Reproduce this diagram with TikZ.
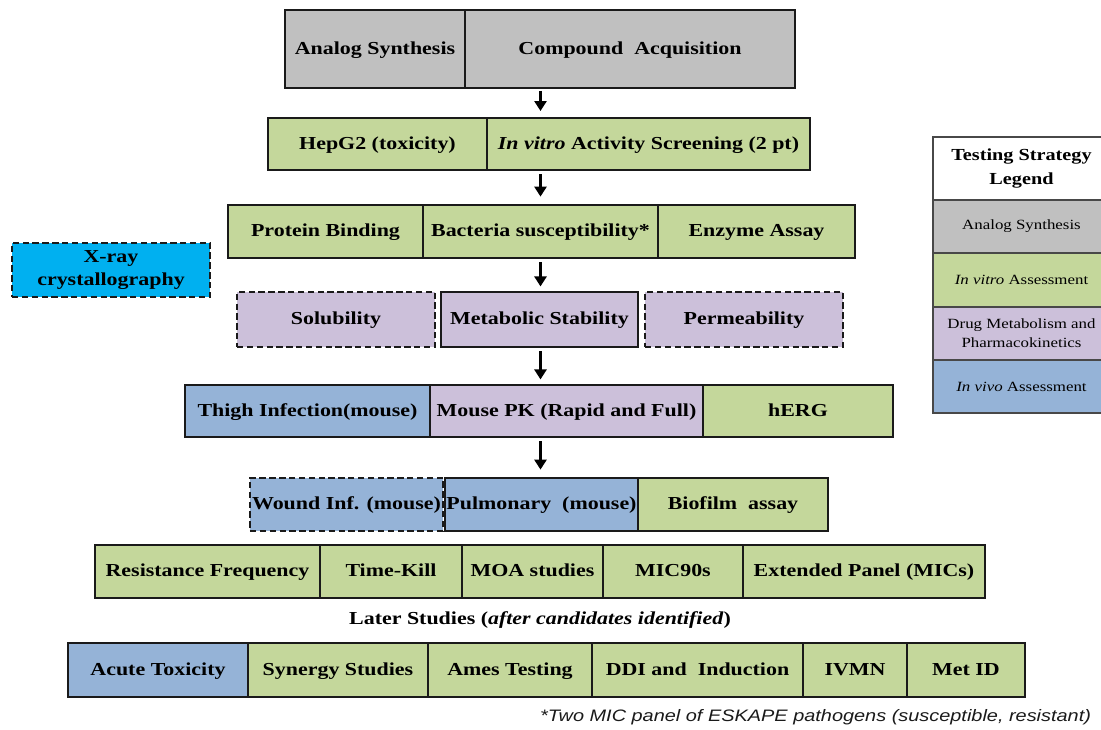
\documentclass[tikz,border=0pt]{standalone}
\usepackage{fontspec}
\setmainfont[FakeStretch=1.2]{Liberation Serif}
\newfontfamily\notefont[FakeStretch=1.2]{Liberation Sans}
\usetikzlibrary{arrows.meta,calc}
\definecolor{grauk}{HTML}{C0C0C0}
\definecolor{gruen}{HTML}{C4D79B}
\definecolor{lila}{HTML}{CCC0DA}
\definecolor{blau}{HTML}{95B3D7}
\definecolor{roentgen}{HTML}{00B0F0}
\definecolor{rahmen}{HTML}{1A1A1A}
\tikzset{
  box/.style={draw=rahmen,line width=1.9pt,minimum height=1.3cm,inner sep=1pt,font=\fontsize{13}{15}\selectfont\bfseries},
  zeile/.style={box,text height=1.9ex,text depth=0.3ex},
  syn/.style={zeile,fill=grauk},
  vitro/.style={zeile,fill=gruen},
  dmpk/.style={zeile,fill=lila},
  vivo/.style={zeile,fill=blau},
  optional/.style={dashed,dash pattern=on 4.5pt off 2.5pt},
  flow/.style={-{Triangle[length=2.5mm,width=3mm]},line width=1.8pt},
  leg/.style={draw=rahmen!80,line width=1.1pt,minimum width=4.425cm,minimum height=1.325cm,align=center,font=\fontsize{10}{13.5}\selectfont},
}

\begin{document}
\begin{tikzpicture}[x=0.025cm,y=-0.025cm]
  \useasboundingbox (0,0) rectangle (1101,730);
  % start
  \node[syn,minimum width=4.5cm,minimum height=1.95cm] (anasyn) at (375,49) {Analog Synthesis};
  \node[syn,minimum width=8.25cm,minimum height=1.95cm] (acq) at (630,49) {Compound\ \ Acquisition};
  % in vitro
  \node[vitro,minimum width=5.475cm] (hepg) at (377.5,144) {HepG2 (toxicity)};
  \node[vitro,minimum width=8.075cm] (screen) at (648.5,144) {\textit{In vitro} Activity Screening (2 pt)};
  \node[vitro,minimum width=4.875cm,minimum height=1.325cm] (protbind) at (325.5,231.5) {Protein Binding};
  \node[vitro,minimum width=5.875cm,minimum height=1.325cm] (bact) at (540.5,231.5) {Bacteria susceptibility*};
  \node[vitro,minimum width=4.925cm,minimum height=1.325cm] (enzyme) at (756.5,231.5) {Enzyme Assay};
  \node[box,optional,fill=roentgen,minimum width=4.95cm,minimum height=1.35cm,align=center,font=\fontsize{13}{17}\selectfont\bfseries] (xray) at (111,270) {X-ray\\crystallography};
  % dmpk
  \node[dmpk,optional,minimum width=4.95cm,minimum height=1.375cm] (solub) at (336,319.5) {Solubility};
  \node[dmpk,minimum width=4.925cm,minimum height=1.375cm] (metstab) at (539.5,319.5) {Metabolic Stability};
  \node[dmpk,optional,minimum width=4.95cm,minimum height=1.375cm] (perm) at (744,319.5) {Permeability};
  % in vivo
  \node[vivo,minimum width=6.125cm] (thigh) at (307.5,411) {Thigh Infection(mouse)};
  \node[dmpk,minimum width=6.825cm] (mpk) at (566.5,411) {Mouse PK (Rapid and Full)};
  \node[vitro,minimum width=4.75cm] (herg) at (798,411) {hERG};
  \node[vivo,optional,minimum width=4.825cm,minimum height=1.325cm] (wound) at (346.5,504.5) {Wound Inf. (mouse)};
  \node[vivo,minimum width=4.825cm,minimum height=1.325cm] (pulm) at (541.5,504.5) {Pulmonary\ \ (mouse)};
  \node[vitro,minimum width=4.75cm,minimum height=1.325cm] (biofilm) at (733,504.5) {Biofilm\ \ assay};
  \node[vitro,minimum width=5.625cm,minimum height=1.325cm] (resist) at (207.5,571.5) {Resistance Frequency};
  \node[vitro,minimum width=3.55cm,minimum height=1.325cm] (timekill) at (391,571.5) {Time-Kill};
  \node[vitro,minimum width=3.525cm,minimum height=1.325cm] (moa) at (532.5,571.5) {MOA studies};
  \node[vitro,minimum width=3.5cm,minimum height=1.325cm] (micnin) at (673,571.5) {MIC90s};
  \node[vitro,minimum width=6.05cm,minimum height=1.325cm] (extpanel) at (864,571.5) {Extended Panel (MICs)};
  % later
  \node[font=\fontsize{13}{15}\selectfont\bfseries] (later) at (540,620) {Later Studies (\textit{after candidates identified})};
  \node[vivo,minimum width=4.5cm,minimum height=1.35cm] (acute) at (158,670) {Acute Toxicity};
  \node[vitro,minimum width=4.5cm,minimum height=1.35cm] (synergy) at (338,670) {Synergy Studies};
  \node[vitro,minimum width=4.1cm,minimum height=1.35cm] (ames) at (510,670) {Ames Testing};
  \node[vitro,minimum width=5.275cm,minimum height=1.35cm] (ddi) at (697.5,670) {DDI and\ \ Induction};
  \node[vitro,minimum width=2.6cm,minimum height=1.35cm] (ivmn) at (855,670) {IVMN};
  \node[vitro,minimum width=2.95cm,minimum height=1.35cm] (metid) at (966,670) {Met ID};
  \node[anchor=east,text=rahmen,font=\notefont\itshape\fontsize{11.8}{13}\selectfont] (fussnote) at (1096,717) {*Two MIC panel of ESKAPE pathogens (susceptible, resistant)};
  % flow
  \draw[flow,shorten <=1pt,shorten >=4pt] (acq.south -| bact) -- (screen.north -| bact);
  \draw[flow,shorten <=2pt,shorten >=5pt] (screen.south -| bact) -- (bact.north);
  \draw[flow,shorten <=2pt,shorten >=3pt] (bact.south) -- (metstab.north -| bact);
  \draw[flow,shorten <=2pt,shorten >=3pt] (metstab.south -| bact) -- (mpk.north -| bact);
  \draw[flow,shorten <=2pt,shorten >=5pt] (mpk.south -| bact) -- (pulm.north -| bact);
  % legend
  \node[leg,fill=white,minimum height=1.575cm,font=\fontsize{12}{17}\selectfont\bfseries] (legtitel) at (1021.5,168.5) {Testing Strategy\\Legend};
  \node[leg,fill=grauk] (legsyn) at (1021.5,226.5) {Analog Synthesis};
  \node[leg,fill=gruen] (legvitro) at (1021.5,280) {\textit{In vitro} Assessment};
  \node[leg,fill=lila] (legdmpk) at (1021.5,333.5) {Drug Metabolism and\\Pharmacokinetics};
  \node[leg,fill=blau] (legvivo) at (1021.5,386.5) {\textit{In vivo} Assessment};
\end{tikzpicture}
\end{document}
